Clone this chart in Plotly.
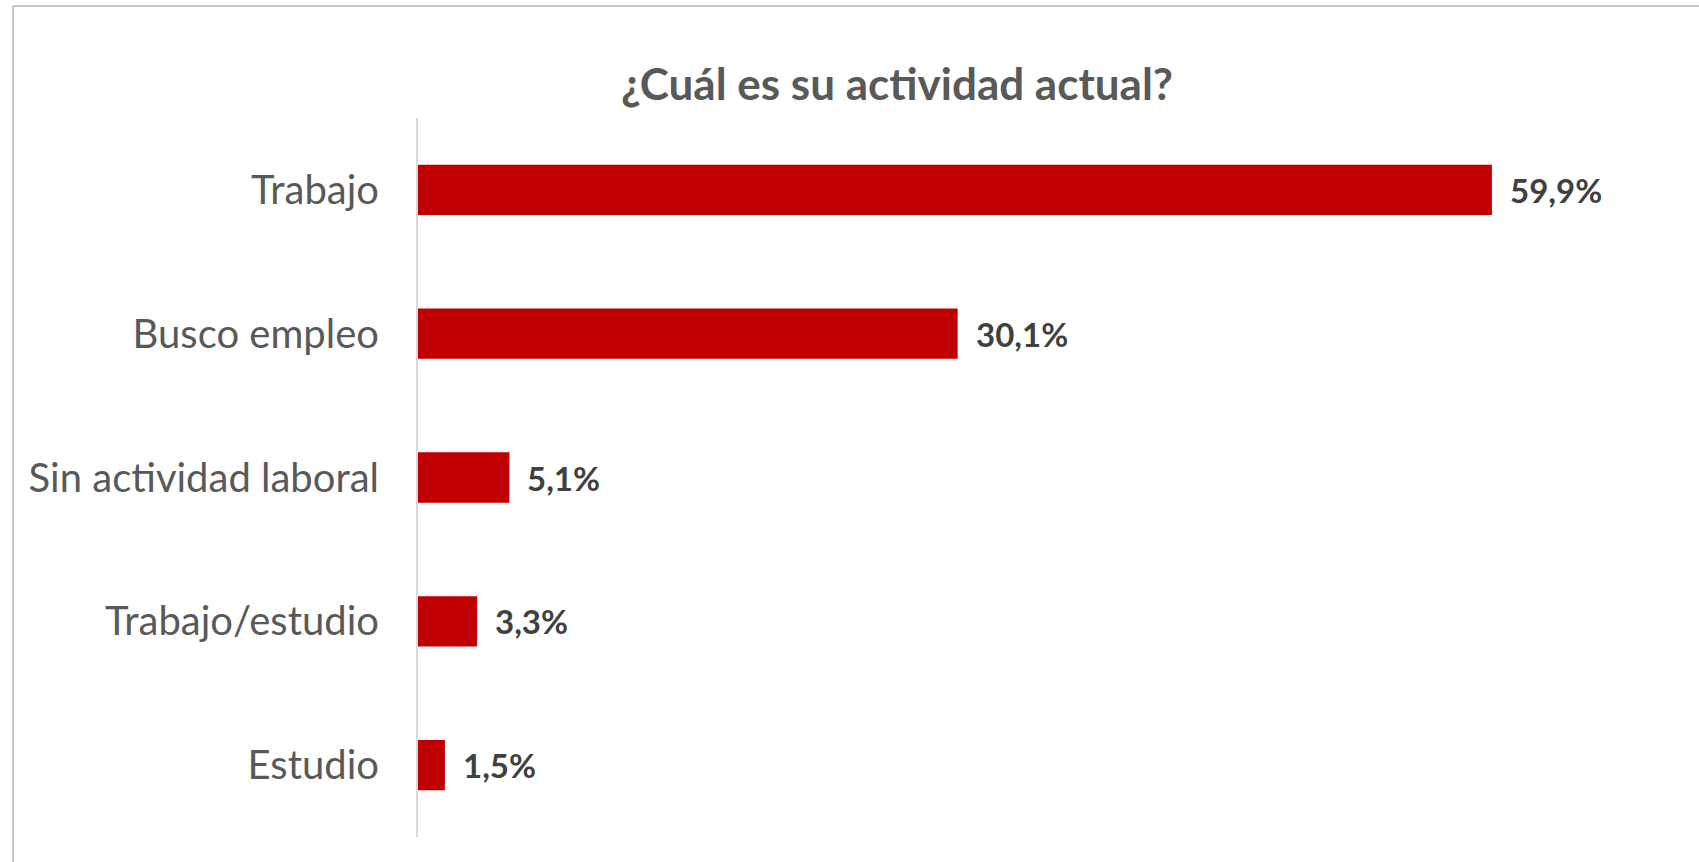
import plotly.graph_objects as go

categories = ["Trabajo", "Busco empleo", "Sin actividad laboral", "Trabajo/estudio", "Estudio"]
values = [59.9, 30.1, 5.1, 3.3, 1.5]
title_text = "¿Cuál es su actividad actual?"

BAR_COLOR = "#C00000"
W, H = 1699, 862
ML, MR, MT, MB = 418, 26, 118, 25

fig = go.Figure()
fig.add_trace(go.Bar(
    x=values, y=categories, orientation="h",
    marker=dict(color=BAR_COLOR, line=dict(width=0)),
    hoverinfo="skip",
))

for c, v in zip(categories, values):
    fig.add_annotation(
        x=v, y=c, xref="x", yref="y",
        text="<b>" + f"{v:.1f}".replace(".", ",") + "%</b>",
        showarrow=False, xanchor="left", yanchor="middle", xshift=16,
        font=dict(family="Lato", size=33, color="#404040"),
    )

pw = W - ML - MR
ph = H - MT - MB
def px_x(p):
    return (p - ML) / pw
def px_y(p):
    return (H - MB - p) / ph

# chart border (left and top visible)
fig.add_shape(type="line", xref="paper", yref="paper",
              x0=px_x(13), x1=px_x(13), y0=px_y(870), y1=px_y(6),
              line=dict(color="#C8C8C8", width=2))
fig.add_shape(type="line", xref="paper", yref="paper",
              x0=px_x(13), x1=px_x(1710), y0=px_y(6), y1=px_y(6),
              line=dict(color="#C8C8C8", width=2))

fig.update_layout(
    width=W, height=H,
    margin=dict(l=ML, r=MR, t=MT, b=MB),
    paper_bgcolor="white", plot_bgcolor="white",
    bargap=0.65,
    showlegend=False,
    title=dict(text="<b>" + title_text + "</b>", x=px_x(897), xanchor="center",
               y=1 - 85 / H, yanchor="middle", xref="paper",
               font=dict(family="Lato", size=44, color="#595959")),
    xaxis=dict(range=[0, 70], visible=False, showgrid=False, zeroline=False),
    yaxis=dict(autorange="reversed", showline=True, linecolor="#D9D9D9", linewidth=2,
               ticks="", showgrid=False, zeroline=False, ticklabelstandoff=29,
               tickfont=dict(family="Lato", size=40, color="#595959")),
)

fig.write_html("out.html", config={"displayModeBar": False},
               post_script="document.body.style.margin='0';document.body.style.overflow='hidden';")
